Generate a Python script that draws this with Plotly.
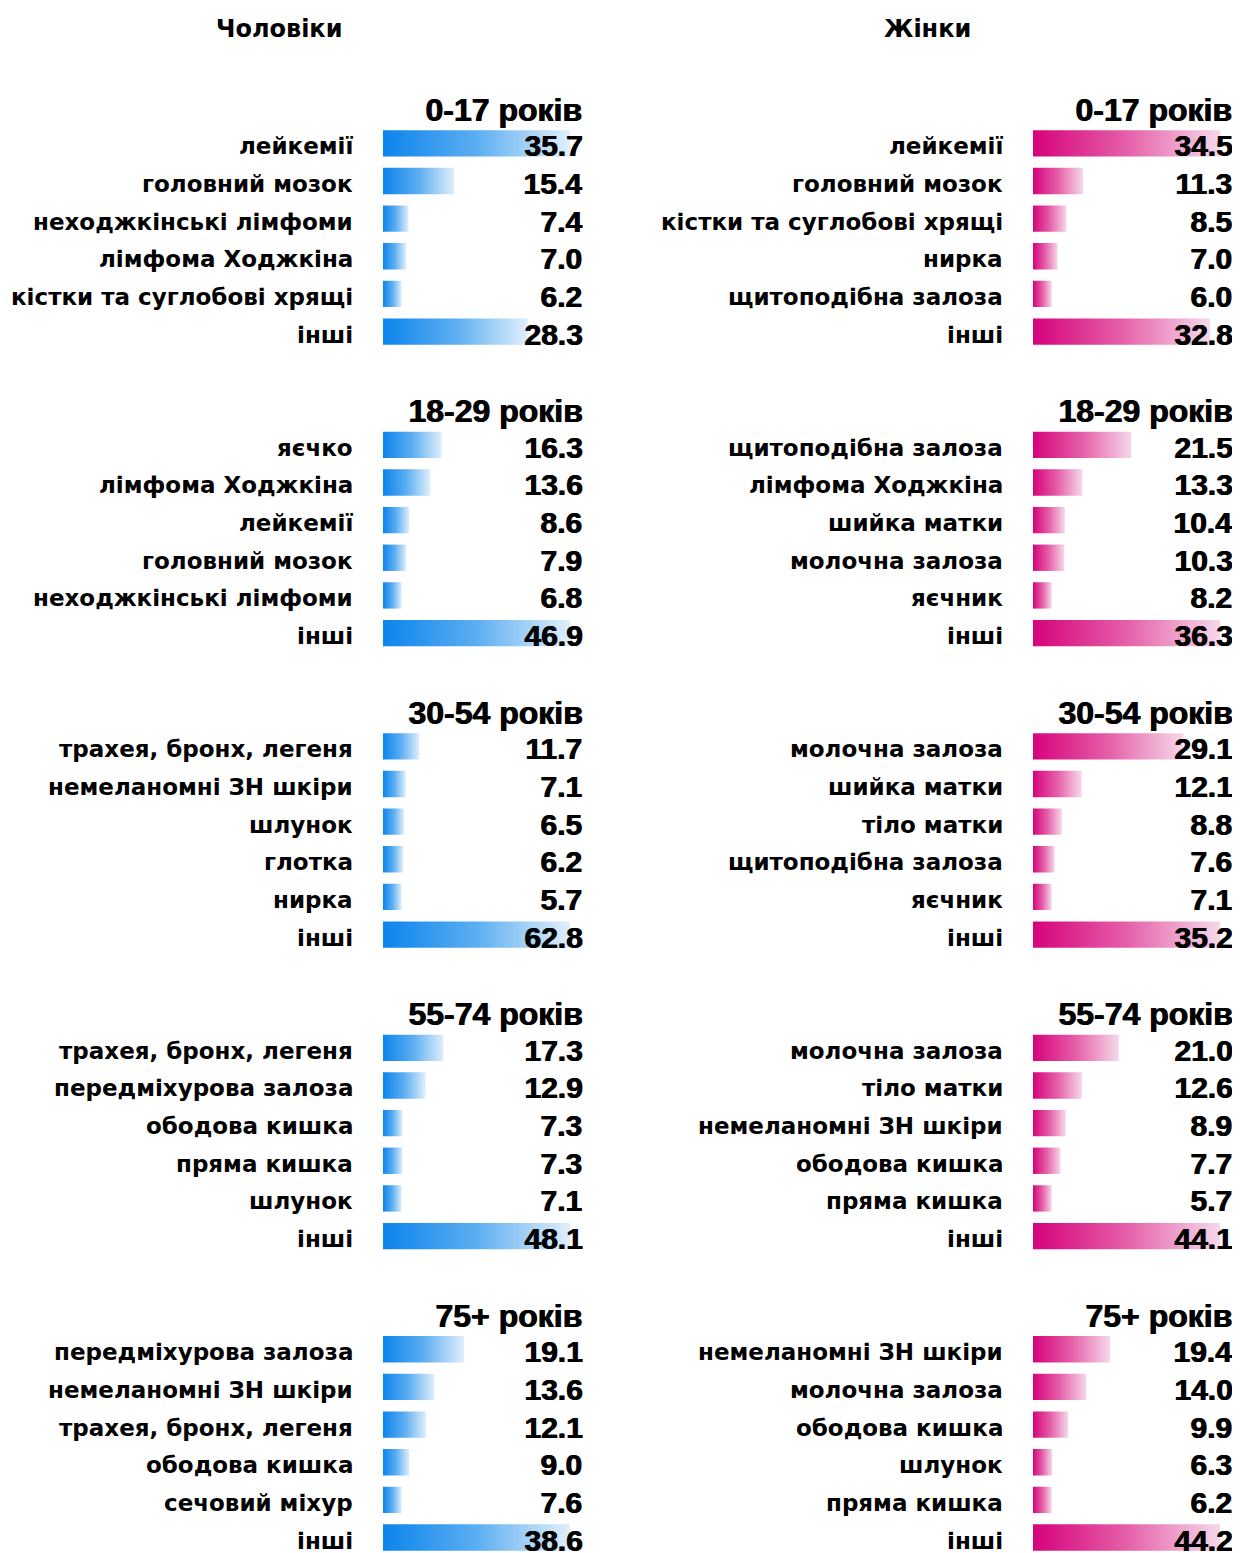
import plotly.graph_objects as go

age_groups = ["0-17 років", "18-29 років", "30-54 років", "55-74 років", "75+ років"]
side_titles = ["Чоловіки", "Жінки"]

men_0_17_sites = ["лейкемії", "головний мозок", "неходжкінські лімфоми", "лімфома Ходжкіна", "кістки та суглобові хрящі", "інші"]
men_0_17_values = [35.7, 15.4, 7.4, 7.0, 6.2, 28.3]
men_18_29_sites = ["яєчко", "лімфома Ходжкіна", "лейкемії", "головний мозок", "неходжкінські лімфоми", "інші"]
men_18_29_values = [16.3, 13.6, 8.6, 7.9, 6.8, 46.9]
men_30_54_sites = ["трахея, бронх, легеня", "немеланомні ЗН шкіри", "шлунок", "глотка", "нирка", "інші"]
men_30_54_values = [11.7, 7.1, 6.5, 6.2, 5.7, 62.8]
men_55_74_sites = ["трахея, бронх, легеня", "передміхурова залоза", "ободова кишка", "пряма кишка", "шлунок", "інші"]
men_55_74_values = [17.3, 12.9, 7.3, 7.3, 7.1, 48.1]
men_75_sites = ["передміхурова залоза", "немеланомні ЗН шкіри", "трахея, бронх, легеня", "ободова кишка", "сечовий міхур", "інші"]
men_75_values = [19.1, 13.6, 12.1, 9.0, 7.6, 38.6]

women_0_17_sites = ["лейкемії", "головний мозок", "кістки та суглобові хрящі", "нирка", "щитоподібна залоза", "інші"]
women_0_17_values = [34.5, 11.3, 8.5, 7.0, 6.0, 32.8]
women_18_29_sites = ["щитоподібна залоза", "лімфома Ходжкіна", "шийка матки", "молочна залоза", "яєчник", "інші"]
women_18_29_values = [21.5, 13.3, 10.4, 10.3, 8.2, 36.3]
women_30_54_sites = ["молочна залоза", "шийка матки", "тіло матки", "щитоподібна залоза", "яєчник", "інші"]
women_30_54_values = [29.1, 12.1, 8.8, 7.6, 7.1, 35.2]
women_55_74_sites = ["молочна залоза", "тіло матки", "немеланомні ЗН шкіри", "ободова кишка", "пряма кишка", "інші"]
women_55_74_values = [21.0, 12.6, 8.9, 7.7, 5.7, 44.1]
women_75_sites = ["немеланомні ЗН шкіри", "молочна залоза", "ободова кишка", "шлунок", "пряма кишка", "інші"]
women_75_values = [19.4, 14.0, 9.9, 6.3, 6.2, 44.2]

men_sites = [men_0_17_sites, men_18_29_sites, men_30_54_sites, men_55_74_sites, men_75_sites]
men_values = [men_0_17_values, men_18_29_values, men_30_54_values, men_55_74_values, men_75_values]
women_sites = [women_0_17_sites, women_18_29_sites, women_30_54_sites, women_55_74_sites, women_75_sites]
women_values = [women_0_17_values, women_18_29_values, women_30_54_values, women_55_74_values, women_75_values]

# ---- styling / layout ----
OFF = 8  # browser body margin
W, H = 1240 - OFF, 1553 - OFF
NUM_FONT = "Liberation Sans"
LBL_FONT = "DejaVu Sans"
BLUE_SCALE = [[0, "rgb(12,132,236)"], [0.5, "rgb(92,174,241)"], [1, "rgb(224,239,252)"]]
PINK_SCALE = [[0, "rgb(214,2,124)"], [0.5, "rgb(229,95,168)"], [1, "rgb(246,216,234)"]]
SHADOW = "1px 0px 0px black"

x_left_px = [383, 1033]
x_right_px = [570, 1220]
row_px = 37.65
first_row_center = 143.3
group_step = 301.5
bar_half = 0.35


def fx(px):
    return (px - OFF) / W


def fy(py):
    return 1 - (py - OFF) / H


fig = go.Figure()
annotations = []
layout_axes = {}

sides = [(men_sites, men_values, BLUE_SCALE), (women_sites, women_values, PINK_SCALE)]
n = 0
for s, (sites_all, vals_all, cscale) in enumerate(sides):
    for g, grp in enumerate(age_groups):
        n += 1
        sites = sites_all[g]
        vals = vals_all[g]
        vmin, vmax = min(vals), max(vals)
        lo = vmin - (vmax - vmin) / 9.0
        xa = "x" if n == 1 else f"x{n}"
        ya = "y" if n == 1 else f"y{n}"
        top_px = first_row_center - 1.5 * row_px + g * group_step
        bot_px = min(top_px + 7 * row_px, H + OFF - 0.5)
        y_bottom_val = -1.5 + (bot_px - top_px) / row_px
        xdom = [fx(x_left_px[s]), fx(x_right_px[s])]
        ydom = [max(0.0, fy(bot_px)), fy(top_px)]
        for k, v in enumerate(vals):
            fig.add_trace(go.Scatter(
                x=[lo, v, v, lo, lo],
                y=[k - bar_half, k - bar_half, k + bar_half, k + bar_half, k - bar_half],
                xaxis=xa, yaxis=ya, mode="lines", fill="toself",
                line=dict(width=0),
                fillgradient=dict(type="horizontal", colorscale=cscale),
                hoverinfo="skip", showlegend=False,
            ))
            annotations.append(dict(
                xref=f"{xa} domain", yref=ya, x=1, y=k, xanchor="right", yanchor="middle",
                xshift=14, yshift=-2.5, showarrow=False, text=f"{v:.1f}",
                font=dict(family=NUM_FONT, size=30, color="black", weight="bold", shadow=SHADOW),
            ))
            annotations.append(dict(
                xref=f"{xa} domain", yref=ya, x=0, y=k, xanchor="right", yanchor="middle",
                xshift=-28, yshift=-3, showarrow=False, text=sites[k],
                font=dict(family=LBL_FONT, size=23, color="black", weight="bold"),
            ))
        annotations.append(dict(
            xref=f"{xa} domain", yref=ya, x=1, y=-1, xanchor="right", yanchor="middle",
            xshift=14, yshift=-4, showarrow=False, text=grp,
            font=dict(family=NUM_FONT, size=32, color="black", weight="bold", shadow=SHADOW),
        ))
        xkey = "xaxis" if n == 1 else f"xaxis{n}"
        ykey = "yaxis" if n == 1 else f"yaxis{n}"
        layout_axes[xkey] = dict(domain=xdom, range=[lo, vmax], anchor=ya,
                                 visible=False, fixedrange=True)
        layout_axes[ykey] = dict(domain=ydom, range=[y_bottom_val, -1.5], anchor=xa,
                                 visible=False, fixedrange=True)

title_x_px = [279, 927]
for s, t in enumerate(side_titles):
    annotations.append(dict(
        xref="paper", yref="paper", x=fx(title_x_px[s]), y=fy(29),
        xanchor="center", yanchor="middle", showarrow=False, text=t,
        font=dict(family=LBL_FONT, size=24, color="black", weight="bold"),
    ))

fig.update_layout(
    width=W, height=H,
    margin=dict(l=0, r=0, t=0, b=0),
    paper_bgcolor="white", plot_bgcolor="white",
    annotations=annotations,
    showlegend=False,
    **layout_axes,
)

fig.write_html("out.html")
